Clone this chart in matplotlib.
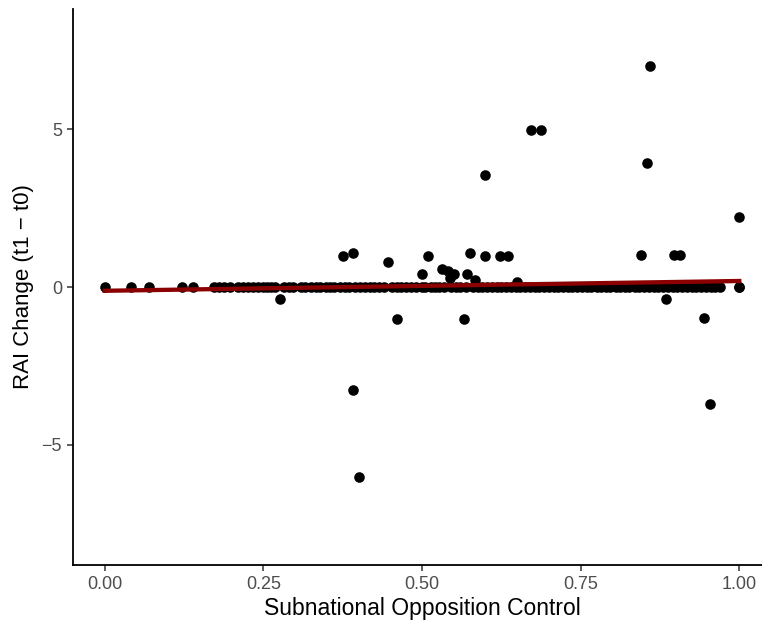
import matplotlib
matplotlib.use("Agg")
import matplotlib.pyplot as plt

plt.rcParams['font.family'] = ['Liberation Sans', 'DejaVu Sans']

# points sitting on zero change
zero_x = [0.0, 0.042, 0.069, 0.121, 0.139, 0.172, 0.18, 0.188, 0.198, 0.21, 0.218, 0.226,
          0.234, 0.242, 0.25, 0.256, 0.262, 0.268, 0.283, 0.29, 0.297, 0.31, 0.316, 0.325,
          0.333, 0.34, 0.348, 0.355, 0.362, 0.37, 0.378, 0.385, 0.395, 0.403, 0.41, 0.418,
          0.425, 0.432, 0.44, 0.452, 0.46, 0.467, 0.475, 0.482, 0.49, 0.5, 0.505, 0.514,
          0.52, 0.527, 0.535, 0.545, 0.553, 0.56, 0.57, 0.58, 0.588, 0.595, 0.603, 0.61,
          0.618, 0.625, 0.633, 0.64, 0.648, 0.655, 0.663, 0.67, 0.678, 0.685, 0.693, 0.7,
          0.708, 0.715, 0.722, 0.73, 0.737, 0.745, 0.752, 0.76, 0.767, 0.775, 0.782, 0.79,
          0.797, 0.805, 0.812, 0.82, 0.827, 0.835, 0.842, 0.85, 0.857, 0.865, 0.872, 0.88,
          0.887, 0.895, 0.902, 0.91, 0.917, 0.925, 0.932, 0.94, 0.947, 0.955, 0.962, 0.97,
          1.0, 1.0]

# points with a non-zero change
change_x = [0.375, 0.391, 0.446, 0.510, 0.500, 0.532, 0.541, 0.550, 0.544, 0.576,
            0.600, 0.623, 0.636, 0.571, 0.584, 0.650, 0.461, 0.566, 0.277,
            0.845, 0.897, 0.906, 0.884, 0.944, 0.671, 0.687, 0.600, 0.854, 0.999,
            0.859, 0.392, 0.954, 0.400]
change_y = [0.99, 1.08, 0.79, 0.98, 0.42, 0.58, 0.51, 0.40, 0.28, 1.08,
            0.99, 0.99, 0.99, 0.42, 0.22, 0.16, -1.01, -1.02, -0.38,
            1.0, 1.0, 1.0, -0.39, -0.97, 4.98, 4.98, 3.54, 3.93, 2.22,
            7.0, -3.26, -3.69, -6.0]

# linear fit line
fit_x = [0.0, 1.0]
fit_y = [-0.12, 0.19]

x_ticks = [0.0, 0.25, 0.5, 0.75, 1.0]
x_labels = ["0.00", "0.25", "0.50", "0.75", "1.00"]
y_ticks = [-5, 0, 5]

fig = plt.figure(figsize=(7.62, 6.24), dpi=100)
ax = fig.add_axes([73 / 762, 1 - 565 / 624, (771 - 73) / 762, (565 - 9) / 624])

ax.scatter(zero_x, [0] * len(zero_x), s=58, color="black", linewidths=0, zorder=2)
ax.scatter(change_x, change_y, s=58, color="black", linewidths=0, zorder=2)
ax.plot(fit_x, fit_y, color="#8B0000", linewidth=3.1, zorder=3)

ax.set_xlim(-0.05, 1.05)
ax.set_ylim(-8.8, 8.8)
ax.set_xticks(x_ticks)
ax.set_xticklabels(x_labels)
ax.set_yticks(y_ticks)

for side in ["top", "right"]:
    ax.spines[side].set_visible(False)
for side in ["left", "bottom"]:
    ax.spines[side].set_linewidth(1.3)
    ax.spines[side].set_color("black")

ax.tick_params(length=4, width=1.1, color="#333333", labelcolor="#4D4D4D",
               labelsize=13, pad=4)

ax.set_xlabel("Subnational Opposition Control", fontsize=16.5, labelpad=3)
ax.set_ylabel("RAI Change (t1 \u2212 t0)", fontsize=16, labelpad=5)

fig.savefig("out.png", dpi=100)
